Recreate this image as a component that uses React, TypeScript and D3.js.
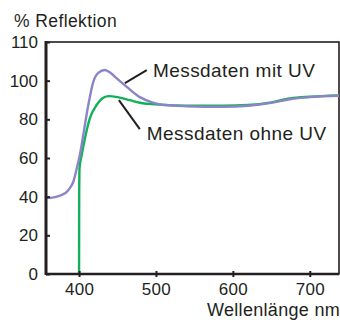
import React, { useRef, useEffect } from "react";
import * as d3 from "d3";

// wavelength (nm) / reflection (%)
const mitUvNm = [357, 362, 370, 378, 384, 389, 392.5, 397, 401, 405.5, 412, 418.5, 425, 433.5, 441, 449, 462, 479, 495, 510, 540, 587, 620, 650, 674, 700, 738];
const mitUvVal = [39.4, 39.4, 39.9, 41, 42.5, 45, 47.7, 54.6, 61.5, 72, 87.4, 99.4, 104, 105.5, 104, 101.2, 96.8, 91.5, 88.8, 87.4, 86.8, 86.5, 87, 88.5, 90.4, 91.5, 92.2];

const ohneUvNm = [400, 400.15, 400.6, 403.4, 407.6, 414, 422.8, 430, 438, 450, 466, 479, 505, 540, 587, 620, 650, 674, 700, 738];
const ohneUvVal = [0, 40, 54.8, 61.5, 70.1, 80.5, 87.4, 90.8, 92, 91.5, 89.9, 88.6, 87.6, 87.1, 87, 87.4, 88.8, 90.8, 91.7, 92.4];

const xTicks = [400, 500, 600, 700];
const yTicks = [0, 20, 40, 60, 80, 100, 120];
const yTickLabels = ["0", "20", "40", "60", "80", "100", "110"];

const FONT = '"Liberation Sans", Arial, Helvetica, sans-serif';
const INK = "#231f20";

const ReflectionChart = () => {
  const chartRef = useRef<HTMLDivElement>(null);

  useEffect(() => {
    const width = 340;
    const height = 320;
    const margin = { top: 42, right: 1, bottom: 46, left: 46 };

    const svg = d3
      .select(chartRef.current)
      .append("svg")
      .attr("width", width)
      .attr("height", height)
      .style("display", "block")
      .style("font-family", FONT);

    const x = d3
      .scaleLinear()
      .domain([357, 738])
      .range([margin.left, width - margin.right]);

    const y = d3
      .scaleLinear()
      .domain([0, 120])
      .range([height - margin.bottom, margin.top]);

    // frame (top + right)
    svg
      .append("rect")
      .attr("x", x(357))
      .attr("y", y(120))
      .attr("width", x(738) - x(357))
      .attr("height", y(0) - y(120))
      .attr("fill", "none")
      .attr("stroke", INK)
      .attr("stroke-width", 1.6);

    const line = d3
      .line<[number, number]>()
      .x((d) => x(d[0]))
      .y((d) => y(d[1]))
      .curve(d3.curveMonotoneX);

    svg
      .append("path")
      .datum(ohneUvNm.map((n, i) => [n, ohneUvVal[i]] as [number, number]))
      .attr("d", line)
      .attr("fill", "none")
      .attr("stroke", "#12b05a")
      .attr("stroke-width", 2.4);

    svg
      .append("path")
      .datum(mitUvNm.map((n, i) => [n, mitUvVal[i]] as [number, number]))
      .attr("d", line)
      .attr("fill", "none")
      .attr("stroke", "#8a85c6")
      .attr("stroke-width", 2.4);

    // axes
    const xAxis = svg
      .append("g")
      .attr("transform", `translate(0,${y(0)})`)
      .call(
        d3
          .axisBottom(x)
          .tickValues(xTicks)
          .tickSize(3)
          .tickPadding(6)
      );
    xAxis.select(".domain").remove();
    xAxis.selectAll(".tick line").attr("y1", -3).attr("stroke", INK).attr("stroke-width", 2);
    xAxis
      .selectAll(".tick text")
      .attr("fill", INK)
      .style("font-size", "17px")
      .style("letter-spacing", "0.3px")
      .style("font-family", FONT);

    const yAxis = svg
      .append("g")
      .attr("transform", `translate(${x(357)},0)`)
      .call(
        d3
          .axisLeft(y)
          .tickValues(yTicks)
          .tickFormat((d, i) => yTickLabels[i])
          .tickSize(7)
          .tickPadding(1)
      );
    yAxis.select(".domain").remove();
    yAxis.selectAll(".tick line").attr("x2", 4).attr("stroke", INK).attr("stroke-width", 2);
    yAxis
      .selectAll(".tick text")
      .attr("fill", INK)
      .style("font-size", "17px")
      .style("font-family", FONT);

    svg
      .append("line")
      .attr("x1", x(357))
      .attr("x2", x(738))
      .attr("y1", y(0))
      .attr("y2", y(0))
      .attr("stroke", INK)
      .attr("stroke-width", 2.5);

    svg
      .append("line")
      .attr("x1", x(357))
      .attr("x2", x(357))
      .attr("y1", y(0) + 1)
      .attr("y2", y(120) - 1)
      .attr("stroke", INK)
      .attr("stroke-width", 3);

    // labels
    svg
      .append("text")
      .attr("x", 14)
      .attr("y", 27)
      .attr("fill", INK)
      .style("font-size", "17.5px")
      .style("letter-spacing", "0.4px")
      .text("% Reflektion");

    svg
      .append("text")
      .attr("x", width)
      .attr("y", 316)
      .attr("text-anchor", "end")
      .attr("fill", INK)
      .style("font-size", "18px")
      .style("letter-spacing", "0.3px")
      .text("Wellenlänge nm");

    // annotations with leader lines
    svg
      .append("line")
      .attr("x1", x(459.6))
      .attr("y1", y(98.7))
      .attr("x2", x(488))
      .attr("y2", y(105.4))
      .attr("stroke", INK)
      .attr("stroke-width", 2);

    svg
      .append("text")
      .attr("x", x(496))
      .attr("y", y(101.8))
      .attr("fill", INK)
      .style("font-size", "19px")
      .style("letter-spacing", "0.45px")
      .text("Messdaten mit UV");

    svg
      .append("line")
      .attr("x1", x(451.8))
      .attr("y1", y(89.9))
      .attr("x2", x(479))
      .attr("y2", y(74.9))
      .attr("stroke", INK)
      .attr("stroke-width", 2);

    svg
      .append("text")
      .attr("x", x(488))
      .attr("y", y(69.3))
      .attr("fill", INK)
      .style("font-size", "19px")
      .style("letter-spacing", "0.45px")
      .text("Messdaten ohne UV");

    return () => {
      if (chartRef.current) chartRef.current.innerHTML = "";
    };
  }, []);

  return <div ref={chartRef} style={{ position: "absolute", left: 0, top: 0 }}></div>;
};

export default function App() {
  return <ReflectionChart />;
}
